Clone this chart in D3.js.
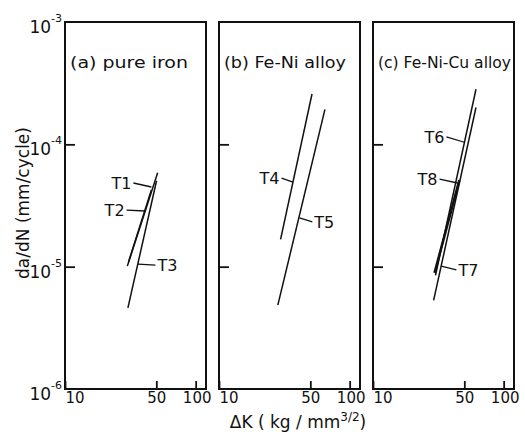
<!DOCTYPE html>
<html>
<head>
<meta charset="utf-8">
<script src="https://cdn.jsdelivr.net/npm/d3@7"></script>
<style>
  body { margin: 0; background: #fff; }
  text { font-family: "DejaVu Sans", sans-serif; fill: #111; }
</style>
</head>
<body>
<div class="chart"></div>
<script>
// panels and curves
var panelTitles = ["(a) pure iron", "(b) Fe-Ni alloy", "(c) Fe-Ni-Cu alloy"];
var seriesNames = ["T1", "T2", "T3", "T4", "T5", "T6", "T7", "T8"];
var seriesPanel = [0, 0, 0, 1, 1, 2, 2, 2];
var dKStart   = [30.0, 30.6, 30.3, 29.6, 28.2, 30.1, 29.1, 29.6];
var dKEnd     = [51.2, 45.8, 50.2, 51.5, 64.7, 61.4, 61.4, 45.8];
var rateStart = [1.01e-5, 1.09e-5, 4.6e-6, 1.67e-5, 4.85e-6, 8.5e-6, 5.3e-6, 8.9e-6];
var rateEnd   = [5.86e-5, 4.23e-5, 5.04e-5, 2.58e-4, 1.93e-4, 2.82e-4, 2.0e-4, 5.1e-5];

// label leaders: from (K1,r1) to (K2,r2), text on the given side
var leadK1 = [33.4, 29.6, 36.2, 30.1, 41.3, 36.5, 33.3, 32.3];
var leadR1 = [4.83e-5, 2.9e-5, 1.05e-5, 5.3e-5, 2.5e-5, 1.15e-4, 1.01e-5, 5.2e-5];
var leadK2 = [45.8, 41.3, 49.2, 36.8, 51.8, 50.0, 43.5, 44.3];
var leadR2 = [4.48e-5, 2.85e-5, 1.03e-5, 4.92e-5, 2.32e-5, 1.04e-4, 9.4e-6, 4.83e-5];
var labelSide = ["left", "left", "right", "left", "right", "left", "right", "left"];

var xTicks = [10, 50, 100];
var yTicks = [1e-3, 1e-4, 1e-5, 1e-6];
var yTickExp = ["-3", "-4", "-5", "-6"];

var W = 525, H = 447;
var margin = {top: 22, left: 65};
var panelW = 141, panelH = 367, panelStep = 154;

var svg = d3.select(".chart").append("svg")
	.attr("width", W)
	.attr("height", H);

var x = d3.scaleLog().domain([10, 120]).range([0, panelW]);
var y = d3.scaleLog().domain([1e-6, 1e-3]).range([panelH, 0]);

var series = seriesNames.map(function (n, i) {
	return {
		name: n, panel: seriesPanel[i],
		pts: [[dKStart[i], rateStart[i]], [dKEnd[i], rateEnd[i]]],
		lead: [[leadK1[i], leadR1[i]], [leadK2[i], leadR2[i]]],
		side: labelSide[i]
	};
});

var line = d3.line()
	.x(function (d) { return x(d[0]); })
	.y(function (d) { return y(d[1]); });

panelTitles.forEach(function (title, p) {
	var g = svg.append("g")
		.attr("transform", "translate(" + (margin.left + p * panelStep) + "," + margin.top + ")");

	// bottom ticks (inward)
	var xa = g.append("g")
		.attr("transform", "translate(0," + panelH + ")")
		.call(d3.axisBottom(x).tickValues(xTicks).tickSize(-8).tickFormat(d3.format("d")));
	xa.select(".domain").remove();
	xa.selectAll("line").attr("stroke", "#111").attr("stroke-width", 1.8);
	xa.selectAll("text")
		.attr("dy", null).attr("y", 14)
		.style("font-size", "15px")
		.style("font-family", "DejaVu Sans, sans-serif")
		.attr("fill", "#111")
		.attr("text-anchor", function (d) { return d === 10 ? "start" : "middle"; })
		.attr("x", function (d) { return d === 100 ? 1 : 0; });

	// left ticks (inward)
	var ya = g.append("g")
		.call(d3.axisLeft(y).tickValues(yTicks.slice(1, 3)).tickSize(-10).tickFormat(""));
	ya.select(".domain").remove();
	ya.selectAll("line").attr("stroke", "#111").attr("stroke-width", 1.8);

	// frame
	g.append("rect")
		.attr("width", panelW).attr("height", panelH)
		.attr("fill", "none").attr("stroke", "#111").attr("stroke-width", 2);

	g.append("text")
		.attr("x", 5).attr("y", 46)
		.attr("textLength", p === 2 ? 133 : (p === 0 ? 118 : 122))
		.attr("lengthAdjust", "spacingAndGlyphs")
		.style("font-size", "16px")
		.text(title);

	var s = series.filter(function (d) { return d.panel === p; });

	g.selectAll(".curve").data(s).enter().append("path")
		.attr("class", "curve")
		.attr("d", function (d) { return line(d.pts); })
		.attr("fill", "none").attr("stroke", "#111")
		.attr("stroke-width", function (d) { return d.name === "T8" ? 2.6 : 1.5; });

	g.selectAll(".lead").data(s).enter().append("path")
		.attr("class", "lead")
		.attr("d", function (d) { return line(d.lead); })
		.attr("fill", "none").attr("stroke", "#111").attr("stroke-width", 1.3);

	g.selectAll(".lbl").data(s).enter().append("text")
		.attr("class", "lbl")
		.attr("x", function (d) {
			return d.side === "left" ? x(d.lead[0][0]) - 2 : x(d.lead[1][0]) + 2;
		})
		.attr("y", function (d) {
			var r = d.side === "left" ? d.lead[0][1] : d.lead[1][1];
			return y(r) + 6;
		})
		.attr("text-anchor", function (d) { return d.side === "left" ? "end" : "start"; })
		.style("font-size", "16px")
		.text(function (d) { return d.name; });

	// decade labels on the first panel only
	if (p === 0) {
		var lab = g.selectAll(".ylab").data(yTicks).enter().append("text")
			.attr("class", "ylab")
			.attr("x", -3)
			.attr("y", function (d) { return y(d) + 11; })
			.attr("text-anchor", "end")
			.style("font-size", "17px");
		lab.append("tspan").text("10");
		lab.append("tspan")
			.attr("dy", -11)
			.style("font-size", "11px")
			.text(function (d, i) { return yTickExp[i]; });
	}
});

// axis titles
svg.append("text")
	.attr("x", 298).attr("y", 428)
	.attr("text-anchor", "middle")
	.style("font-size", "17px")
	.call(function (t) {
		t.append("tspan").text("\u0394K ( kg / mm");
		t.append("tspan").attr("dy", -7).style("font-size", "12px").text("3/2");
		t.append("tspan").attr("dy", 7).text(")");
	});

svg.append("text")
	.attr("transform", "translate(29,203) rotate(-90)")
	.attr("text-anchor", "middle")
	.style("font-size", "17px")
	.text("da/dN (mm/cycle)");
</script>
</body>
</html>
